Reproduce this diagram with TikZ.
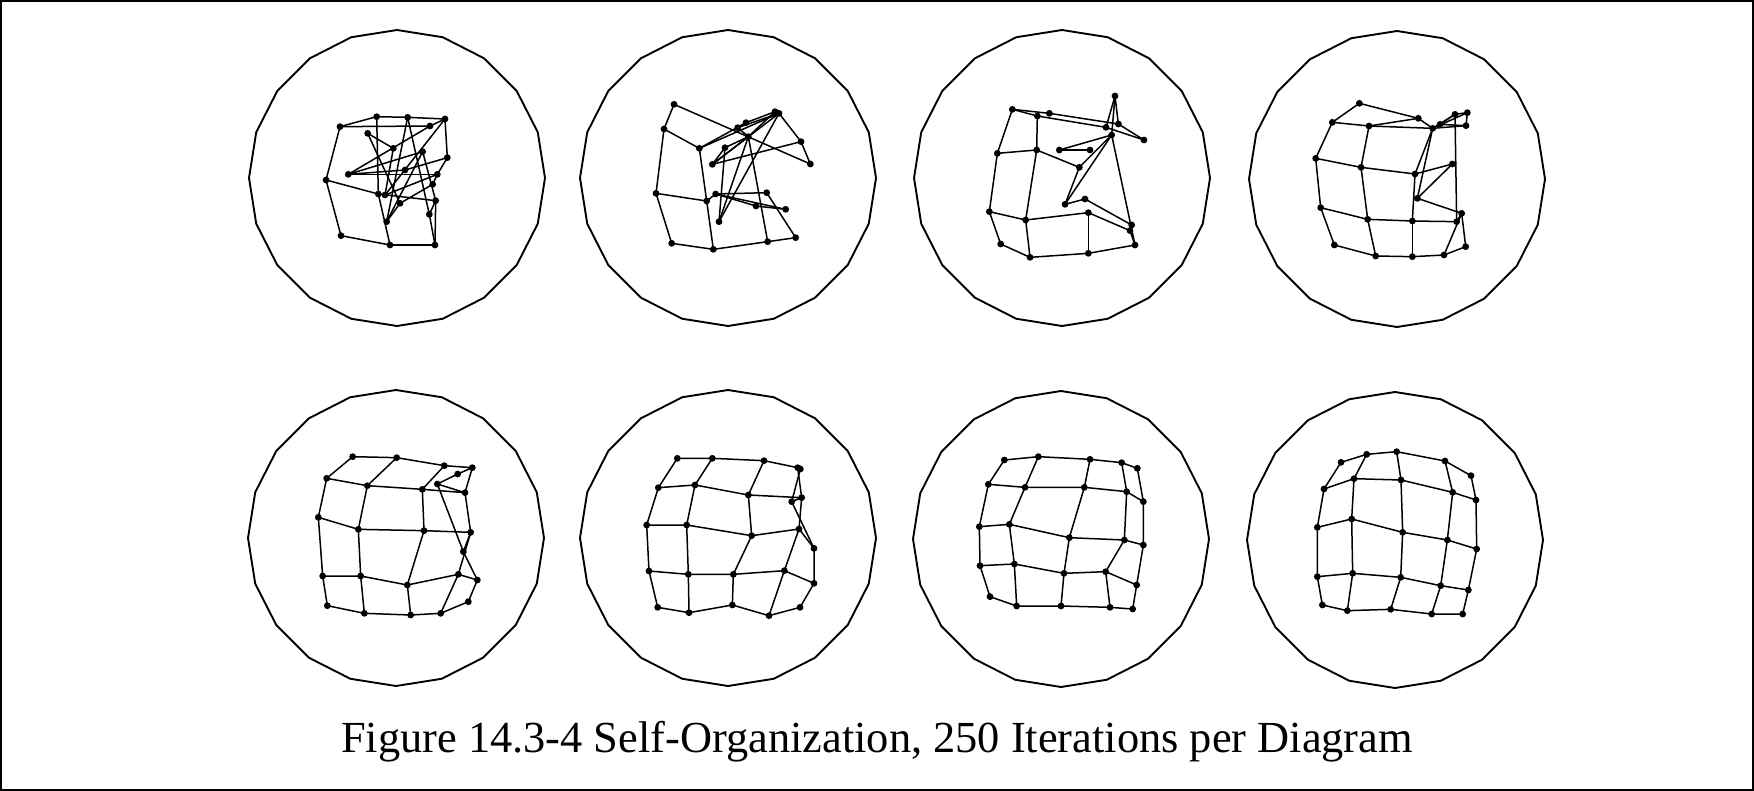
\documentclass[tikz,border=0pt]{standalone}
\usepackage{fontspec}
\setmainfont{Liberation Serif}
% grid of 5x5 points given row-major in zoom units (3x) relative to an offset
\newcommand\somgrid[4]{%
  \foreach \px/\py [count=\n from 0] in {#4} {%
    \pgfmathtruncatemacro\rr{div(\n,5)}%
    \pgfmathtruncatemacro\cc{mod(\n,5)}%
    \coordinate (#3-\rr-\cc) at ({#1+\px/3},{#2+\py/3});
  }%
  \foreach \r in {0,...,4} {\draw[link] (#3-\r-0)--(#3-\r-1)--(#3-\r-2)--(#3-\r-3)--(#3-\r-4);}%
  \foreach \c in {0,...,4} {\draw[link] (#3-0-\c)--(#3-1-\c)--(#3-2-\c)--(#3-3-\c)--(#3-4-\c);}%
  \foreach \r in {0,...,4} {\foreach \c in {0,...,4} {\node[dot] (#3d-\r-\c) at (#3-\r-\c) {};}}%
}
% tangled net: named points and explicit edges
\newcommand\somtangle[5]{%
  \foreach \nm/\px/\py in {#4} {\coordinate (#3\nm) at ({#1+\px/3},{#2+\py/3});}%
  \foreach \ea/\eb in {#5} {\draw[link] (#3\ea) -- (#3\eb);}%
  \foreach \nm/\px/\py in {#4} {\node[dot] (#3d\nm) at (#3\nm) {};}%
}
\begin{document}
\begin{tikzpicture}[x=0.5pt,y=-0.5pt,
  ring/.style={line width=0.95pt, line join=round},
  link/.style={line width=0.75pt, line join=round},
  dot/.style={circle, fill=black, inner sep=0pt, minimum size=3.4pt},
  frame/.style={line width=1pt}]
\useasboundingbox (0,0) rectangle (1754,791);
\draw[frame] (1,1) rectangle (1753,790);

% the eight 20-gon boundaries
\foreach \cx/\cy in {397/178, 728/178, 1062/178, 1397/179, 396/538, 728/538, 1061/539, 1395/540} {
  \draw[ring] plot[samples=21, domain=90:450, variable=\t] ({\cx+148*cos(\t)},{\cy+148*sin(\t)}) -- cycle;
}

% circle 1
\somtangle{230}{20}{ga}{A/330/320, B/440/290, D/533/292, F/645/297, G/600/318,
  H/413/340, I/490/385, J/578/395, K/652/413, L/288/480, M/355/463, N/622/463,
  O/608/493, P/525/450, Q/445/522, R/617/542, S/465/525, T/510/550, U/470/605,
  V/598/583, W/333/647, X/480/675, Y/615/675}
 {A/B, B/D, D/F, A/G, G/F, A/L, L/W, W/X, X/Y, Y/R, L/Q, Q/R, B/Q, Q/X, M/N, M/J,
  M/G, F/K, K/N, N/O, F/S, D/U, D/V, H/T, I/S, J/U, T/U, V/Y, R/V, O/T, P/M, P/K,
  H/I, J/R, S/N}

% circle 2
\somtangle{525}{20}{gb}{A/447/253, B/417/327, C/523/385, D/393/520, E/545/543,
  F/440/670, G/565/688, H/728/665, I/812/653, J/638/323, K/663/308, L/670/350,
  M/750/275, N/762/280, O/828/365, P/856/432, Q/600/383, R/562/433, S/572/522,
  T/725/518, U/693/558, V/782/568, W/582/605}
 {A/B, B/C, C/E, E/G, B/D, D/F, F/G, G/H, H/I, D/E, E/S, A/P, C/K, C/N, K/M, J/N,
  J/L, N/O, O/P, O/R, R/L, R/N, Q/L, L/W, N/W, L/H, T/I, S/T, S/V, U/V, S/U, J/K,
  L/M, Q/W, R/Q}

% circle 3
\somtangle{820}{20}{gc}{A/577/268, B/652/288, C/688/280, D/885/228, E/895/312,
  F/972/360, G/858/322, H/875/345, I/532/400, J/650/390, K/718/390, L/810/390,
  M/778/442, N/508/575, O/617/600, P/805/578, Q/735/553, R/795/537, S/542/672,
  T/630/712, U/805/700, V/945/675, W/935/615, X/930/632}
 {A/B, B/G, A/C, C/E, A/I, I/N, N/S, S/T, T/U, U/V, V/X, V/H, D/G, D/E, D/H, E/F,
  G/F, B/J, J/O, O/T, I/J, J/M, M/H, M/Q, Q/R, Q/H, K/L, K/H, N/O, O/P, P/U, P/X,
  R/W, W/X}

% circle 4
\somtangle{1300}{85}{gd}{A/178/55, B/355/100, C/97/112, D/207/123, E/398/130,
  F/465/88, G/502/83, H/498/122, I/420/118, J/47/220, K/183/247, L/345/267,
  M/457/237, N/352/340, O/62/368, P/203/403, Q/337/408, R/470/410, S/485/385,
  T/103/480, U/227/513, V/337/515, W/432/510, X/497/485}
 {A/B, B/E, A/C, C/D, D/E, D/B, C/J, J/O, O/T, T/U, U/V, V/W, W/X, D/K, K/P, P/U,
  J/K, K/L, L/M, O/P, P/Q, Q/R, R/S, Q/V, L/Q, E/L, E/N, N/M, N/S, S/X, W/S, F/R,
  E/F, E/G, F/G, G/H, H/E, I/F, I/H}

% circle 5
\somgrid{230}{375}{ge}{368/245, 500/248, 643/272, 727/278, 683/297,
  290/310, 412/332, 577/343, 705/353, 622/327,
  265/427, 385/463, 582/467, 722/472, 700/530,
  278/603, 392/603, 532/630, 685/598, 742/615,
  292/692, 403/715, 542/720, 632/715, 715/680}

% circle 6
\somgrid{525}{375}{gf}{457/250, 562/250, 717/257, 818/278, 826/282,
  400/338, 510/330, 670/360, 830/368, 800/380,
  365/450, 485/450, 680/482, 822/462, 867/520,
  372/588, 490/598, 625/598, 778/587, 867/625,
  398/697, 492/713, 622/690, 732/722, 825/697}

% circle 7
\somgrid{820}{375}{gg}{553/255, 655/245, 810/253, 905/263, 952/280,
  505/328, 615/337, 793/337, 920/350, 970/380,
  478/455, 568/448, 748/488, 913/495, 970/510,
  480/572, 583/567, 732/595, 857/590, 950/630,
  510/665, 590/693, 723/693, 870/697, 938/702}

% circle 8
\somgrid{1300}{440}{gh}{123/67, 200/43, 290/35, 435/63, 513/107,
  72/147, 162/116, 303/120, 458/157, 528/180,
  52/262, 155/237, 308/277, 442/300, 530/327,
  52/410, 158/400, 302/412, 422/437, 505/450,
  67/495, 142/512, 272/508, 395/522, 488/522}

\node[font=\fontsize{22.2}{26}\selectfont, anchor=base, inner sep=0pt] (cap) at (877,752)
  {Figure 14.3-4 Self-Organization, 250 Iterations per Diagram};
\end{tikzpicture}
\end{document}
